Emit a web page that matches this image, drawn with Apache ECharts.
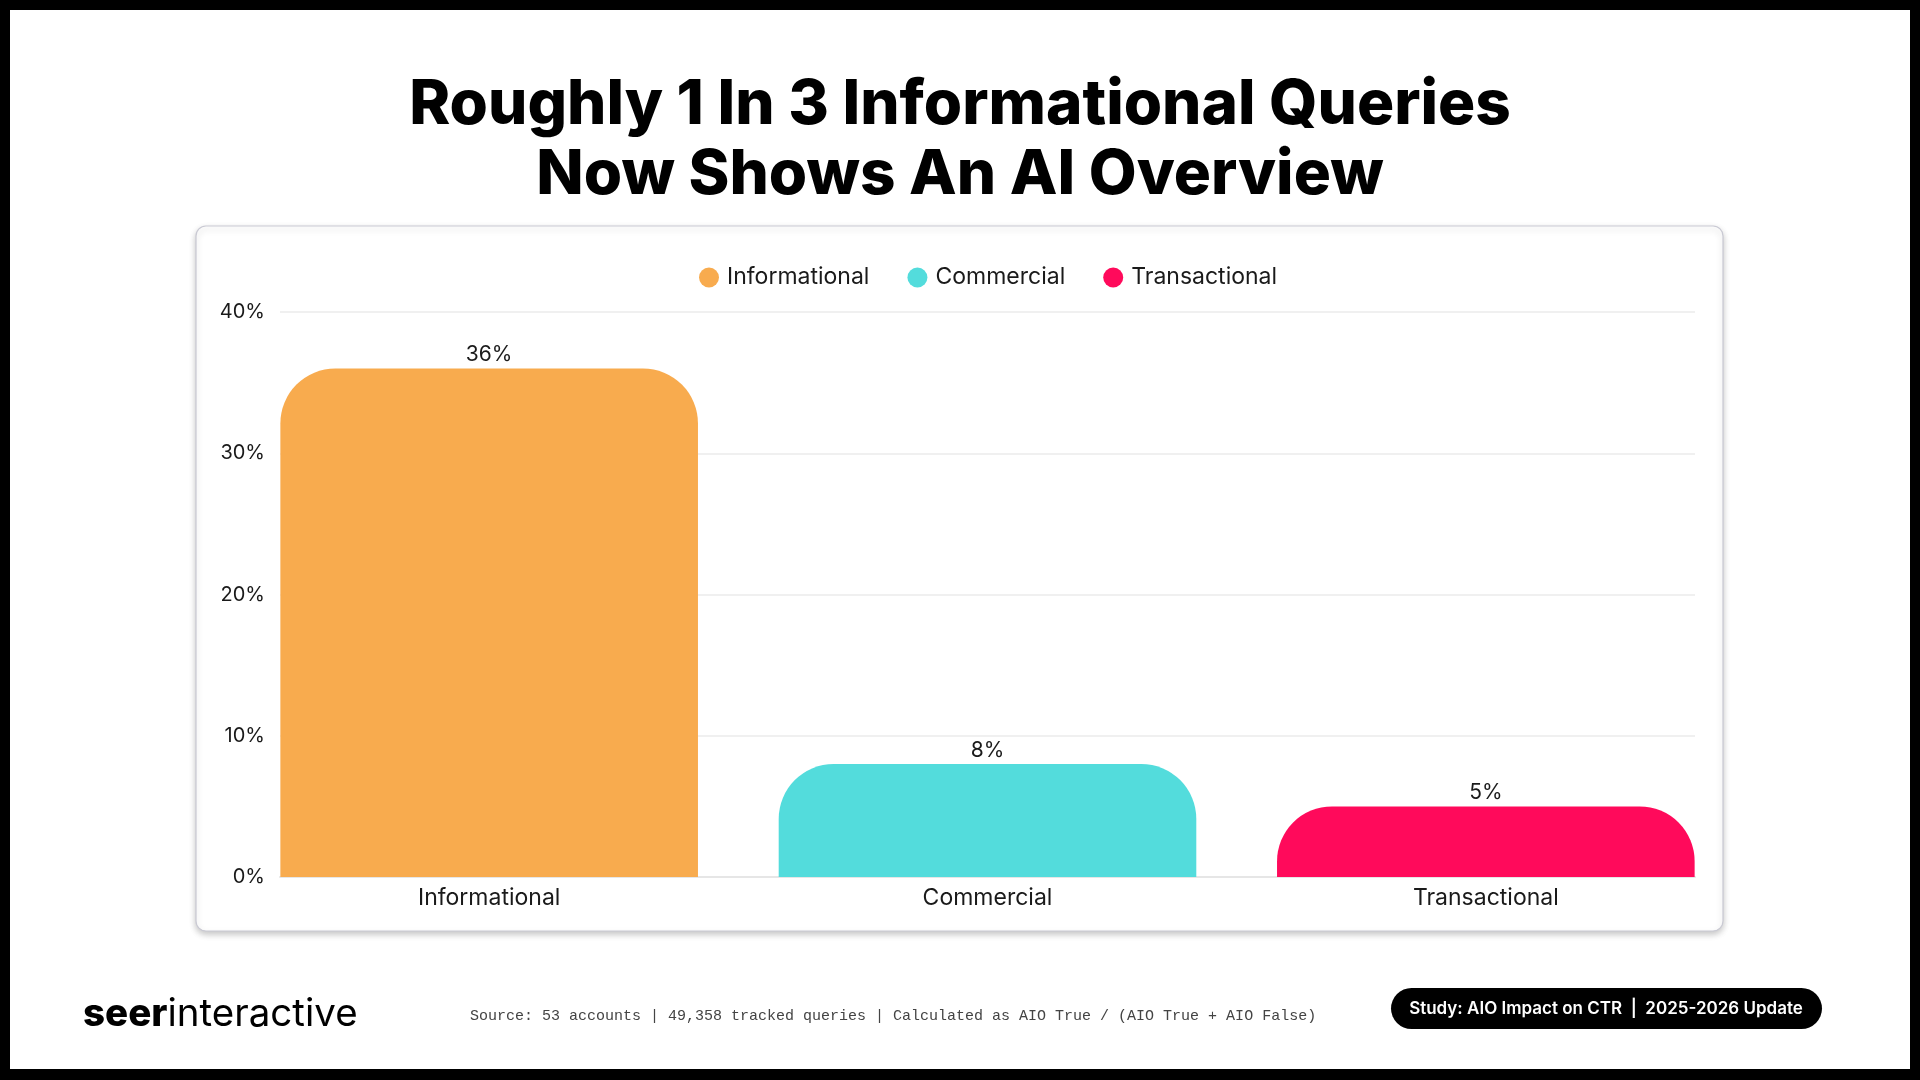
<!DOCTYPE html>
<html>
<head>
<meta charset="utf-8">
<script src="https://cdn.jsdelivr.net/npm/echarts@6/dist/echarts.min.js"></script>
<style>
html,body{margin:0;padding:0;background:#000;}
#chart{width:1920px;height:1080px;}
</style>
</head>
<body>
<div id="chart"></div>
<script>
const titleLines = ['Roughly 1 In 3 Informational Queries', 'Now Shows An AI Overview'];
const categories = ['Informational', 'Commercial', 'Transactional'];
const values = [36, 8, 5];
const yTicks = [0, 10, 20, 30, 40];
const sourceText = 'Source: 53 accounts | 49,358 tracked queries | Calculated as AIO True / (AIO True + AIO False)';
const badgeText = 'Study: AIO Impact on CTR  |  2025-2026 Update';
const colors = ['#F8AB4E', '#53DCDC', '#FF0A5B'];

const FONT = 'Inter, "Noto Sans", sans-serif';
const chart = echarts.init(document.getElementById('chart'));

const series = categories.map((name, i) => ({
  name: name,
  type: 'bar',
  stack: 'all',
  xAxisIndex: 1,
  yAxisIndex: 1,
  barCategoryGap: '16.2%',
  data: categories.map((c, j) => (j === i ? values[i] : null)),
  itemStyle: { color: colors[i], borderRadius: [55, 55, 0, 0] },
  label: {
    show: true, position: 'top', distance: 3,
    formatter: p => p.value + '%',
    color: '#1a1a1a', fontSize: 21, fontFamily: FONT
  },
  emphasis: { disabled: true }
}));

const yMin = yTicks[0], yMax = yTicks[yTicks.length - 1];

chart.setOption({
  backgroundColor: '#000',
  animation: false,
  graphic: [
    { type: 'rect', shape: { x: 10, y: 10, width: 1900, height: 1059 }, style: { fill: '#fff' }, z: -10 },
    { type: 'rect', shape: { x: 196, y: 226, width: 1527, height: 705, r: 10 },
      style: { fill: '#fff', stroke: '#c9c9d3', lineWidth: 1.2, shadowBlur: 6, shadowOffsetY: 3, shadowColor: 'rgba(0,0,0,0.22)' }, z: -5 },
    { type: 'text', x: 960, y: 105, style: { text: titleLines[0], font: '800 62px ' + FONT, fill: '#000', align: 'center', verticalAlign: 'middle' } },
    { type: 'text', x: 960, y: 175, style: { text: titleLines[1], font: '800 62px ' + FONT, fill: '#000', align: 'center', verticalAlign: 'middle' } },
    { type: 'text', x: 83, y: 1014, style: {
        text: '{b|seer}{r|interactive}', align: 'left', verticalAlign: 'middle',
        rich: {
          b: { fontFamily: FONT, fontWeight: 800, fontSize: 38.5, fill: '#000', color: '#000' },
          r: { fontFamily: FONT, fontWeight: 400, fontSize: 38.5, fill: '#000', color: '#000' }
        } } },
    { type: 'text', x: 470, y: 1016, style: { text: sourceText, font: '15px "Liberation Mono", "DejaVu Sans Mono", monospace', fill: '#444', align: 'left', verticalAlign: 'middle' } },
    { type: 'rect', shape: { x: 1391, y: 988, width: 431, height: 41, r: 20.5 }, style: { fill: '#000' } },
    { type: 'text', x: 1606, y: 1009, style: { text: badgeText, font: '600 17px ' + FONT, fill: '#fff', align: 'center', verticalAlign: 'middle' } }
  ],
  legend: {
    top: 261, left: 694,
    icon: 'circle', itemWidth: 20, itemHeight: 20, itemGap: 38,
    data: categories,
    textStyle: { fontFamily: FONT, fontSize: 23, color: '#1a1a1a', padding: [0, 0, 0, 3] },
    selectedMode: false
  },
  grid: [
    { left: 280, right: 225, top: 312, bottom: 203, containLabel: false },
    { left: 240, right: 185, top: 312, bottom: 203, containLabel: false }
  ],
  xAxis: [
    { type: 'category', gridIndex: 0, data: categories,
      axisLine: { lineStyle: { color: '#e6e6e6', width: 2 } },
      axisTick: { show: false }, axisLabel: { show: false } },
    { type: 'category', gridIndex: 1, data: categories,
      axisLine: { show: false }, axisTick: { show: false },
      axisLabel: { color: '#1a1a1a', fontSize: 23, fontFamily: FONT, margin: 10 } }
  ],
  yAxis: [
    { type: 'value', gridIndex: 0, min: yMin, max: yMax, interval: 10,
      axisLine: { show: false }, axisTick: { show: false },
      axisLabel: { formatter: '{value}%', color: '#1a1a1a', fontSize: 20, fontFamily: FONT, margin: 15 },
      splitLine: { lineStyle: { color: '#ebebeb', width: 1.5 } } },
    { type: 'value', gridIndex: 1, min: yMin, max: yMax, interval: 10,
      axisLine: { show: false }, axisTick: { show: false },
      axisLabel: { show: false }, splitLine: { show: false } }
  ],
  series: series
});
</script>
</body>
</html>
